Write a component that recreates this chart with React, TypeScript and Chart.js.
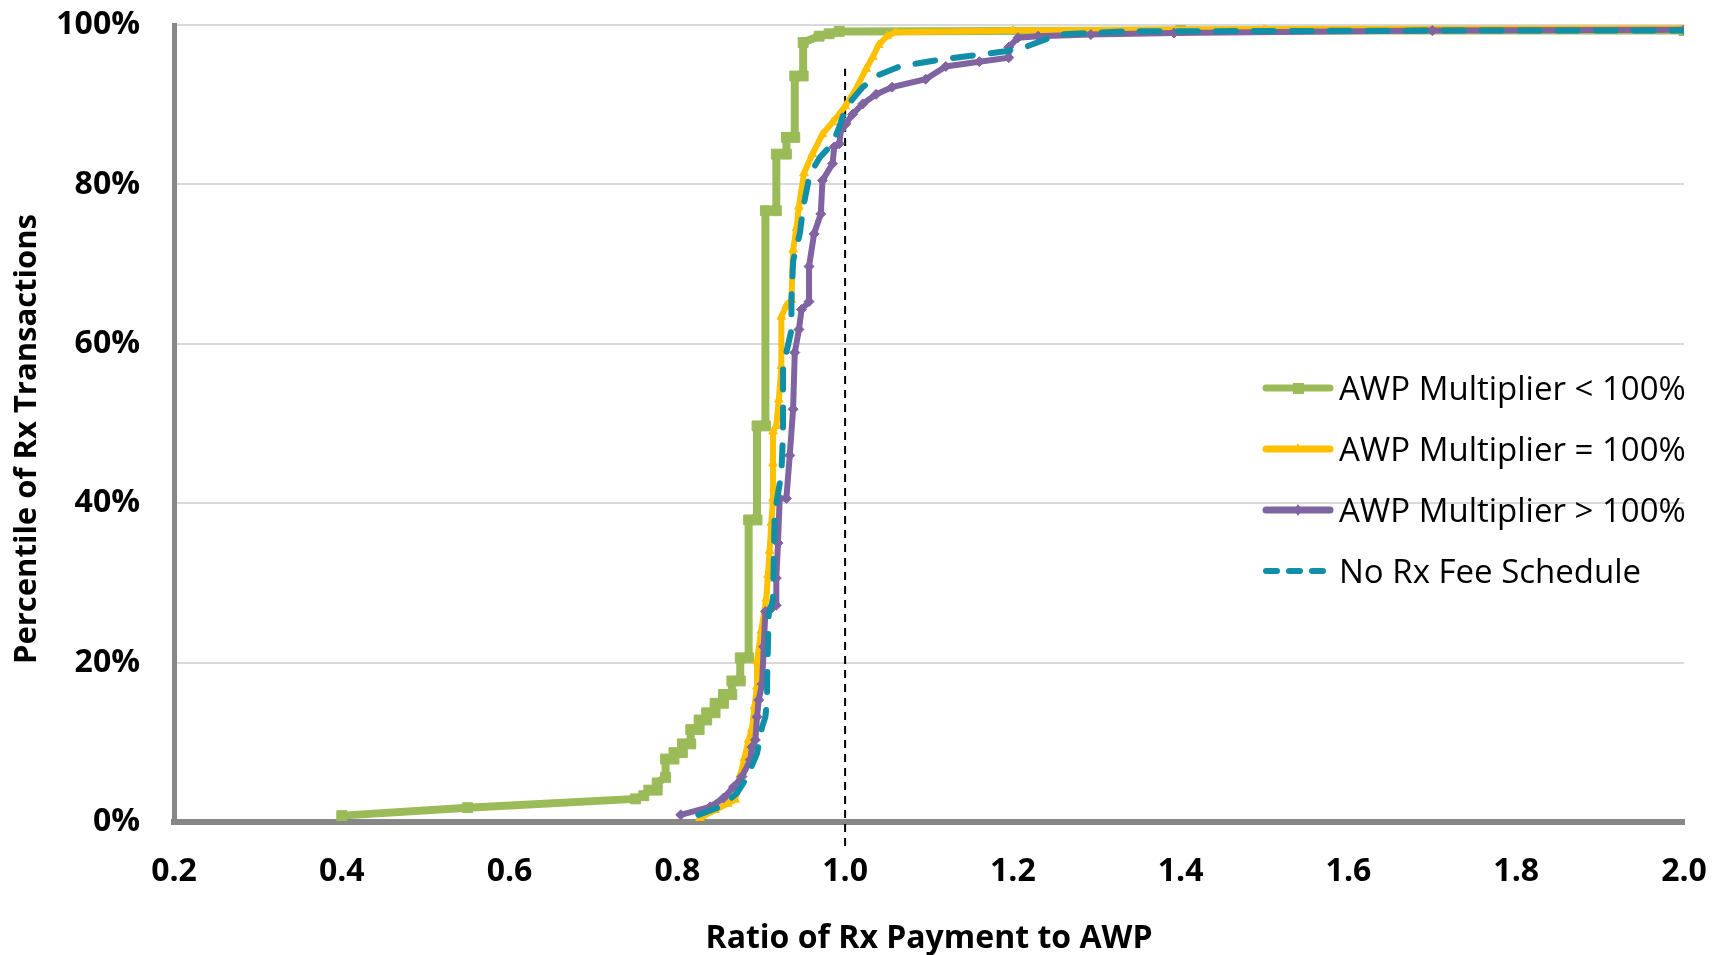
import { useEffect, useRef } from "react";
import { Chart, registerables } from "chart.js";

Chart.register(...registerables);

// series names (legend order)
const seriesNames = [
  "AWP Multiplier < 100%",
  "AWP Multiplier = 100%",
  "AWP Multiplier > 100%",
  "No Rx Fee Schedule",
];
const xTitle = "Ratio of Rx Payment to AWP";
const yTitle = "Percentile of Rx Transactions";

// tick values
const xTickValues = [0.2, 0.4, 0.6, 0.8, 1.0, 1.2, 1.4, 1.6, 1.8, 2.0];
const yTickValues = [0, 20, 40, 60, 80, 100];

// AWP Multiplier < 100%
const greenX = [
  0.4, 0.55, 0.75, 0.76, 0.766, 0.776, 0.776, 0.786, 0.786, 0.796, 0.796, 0.806, 0.806, 0.816, 0.816,
  0.826, 0.826, 0.835, 0.835, 0.845, 0.845, 0.855, 0.855, 0.865, 0.865, 0.875, 0.875, 0.885, 0.885,
  0.895, 0.895, 0.905, 0.905, 0.918, 0.918, 0.93, 0.93, 0.94, 0.94, 0.95, 0.95, 0.969, 0.981, 0.993,
  1.4, 2.0,
];
const greenY = [
  0.8, 1.8, 2.9, 3.3, 4.0, 4.0, 4.9, 5.6, 7.9, 7.9, 8.7, 8.7, 9.8, 9.8, 11.6,
  11.6, 12.8, 12.8, 13.7, 13.7, 14.9, 14.9, 16.0, 16.0, 17.7, 17.7, 20.6, 20.6, 37.9,
  37.9, 49.7, 49.7, 76.7, 76.7, 83.8, 83.8, 85.9, 85.9, 93.6, 93.6, 97.8, 98.6, 98.9, 99.2,
  99.3, 99.3,
];

// AWP Multiplier = 100%
const yellowX = [
  0.827, 0.845, 0.86, 0.869, 0.872, 0.875, 0.88, 0.885, 0.889, 0.892, 0.895, 0.895, 0.9, 0.906,
  0.908, 0.91, 0.912, 0.914, 0.914, 0.914, 0.918, 0.921, 0.924, 0.924, 0.93, 0.936, 0.938, 0.942,
  0.945, 0.951, 0.961, 0.973, 0.985, 1.0, 1.013, 1.025, 1.033, 1.04, 1.05, 1.06, 1.2, 1.5, 2.0,
];
const yellowY = [
  0.5, 1.5, 2.3, 2.8, 4.5, 5.9, 8.0, 10.3, 11.7, 14.5, 17.0, 20.2, 24.0, 28.0,
  31.0, 34.0, 37.5, 40.6, 45.0, 49.0, 49.7, 53.0, 57.2, 63.4, 64.8, 65.5, 71.8, 74.5,
  77.2, 81.4, 83.8, 86.3, 87.8, 89.8, 92.0, 94.5, 96.0, 97.5, 98.6, 99.1, 99.3, 99.5, 99.6,
];

// AWP Multiplier > 100%
const purpleX = [
  0.804, 0.839, 0.855, 0.867, 0.877, 0.887, 0.889, 0.893, 0.895, 0.897, 0.901, 0.903, 0.905, 0.912,
  0.918, 0.918, 0.92, 0.922, 0.93, 0.934, 0.938, 0.94, 0.945, 0.948, 0.957, 0.957, 0.963, 0.971,
  0.973, 0.985, 0.987, 0.993, 0.995, 1.001, 1.009, 1.021, 1.037, 1.056, 1.096, 1.12, 1.16, 1.195,
  1.195, 1.206, 1.23, 1.293, 1.392, 1.7, 2.0,
];
const purpleY = [
  0.9, 1.9, 3.0, 4.4, 5.7, 7.8, 9.4, 10.3, 13.2, 15.3, 17.3, 22.0, 26.4, 26.8,
  27.2, 30.6, 35.0, 40.6, 40.6, 46.0, 51.8, 58.9, 61.8, 64.3, 65.3, 69.7, 73.8, 76.3,
  80.5, 82.6, 84.7, 85.1, 86.8, 87.6, 88.8, 90.1, 91.3, 92.2, 93.2, 94.8, 95.4, 95.9,
  97.2, 98.4, 98.6, 98.8, 99.0, 99.3, 99.4,
];

// No Rx Fee Schedule
const tealX = [
  0.825, 0.851, 0.871, 0.881, 0.889, 0.895, 0.901, 0.905, 0.907, 0.907, 0.909, 0.914, 0.916, 0.924,
  0.926, 0.926, 0.936, 0.936, 0.938, 0.946, 0.95, 0.958, 0.97, 0.985, 0.993, 1.001, 1.021, 1.037,
  1.065, 1.116, 1.191, 1.214, 1.254, 1.333, 1.7, 2.0,
];
const tealY = [
  0.9, 1.9, 3.6, 5.3, 7.1, 8.6, 11.9, 13.2, 15.3, 17.8, 26.2, 27.8, 38.7, 43.7,
  48.7, 57.1, 61.7, 65.4, 70.4, 73.8, 77.1, 81.3, 83.4, 85.1, 87.2, 89.7, 92.2, 93.6,
  94.8, 95.7, 96.7, 97.2, 98.8, 99.2, 99.3, 99.3,
];

// reference line at ratio 1.0
const refX = [1.0, 1.0];
const refY = [-3, 94.5];

const GREEN = "#9BBB59";
const YELLOW = "#FFC000";
const PURPLE = "#8064A2";
const TEAL = "#118FA8";
const AXIS = "#878787";
const FONT = "'Open Sans', sans-serif";

const pts = (xs: number[], ys: number[]) => xs.map((x, i) => ({ x, y: ys[i] }));

// y axis title, placed like the original (a bit below the plot centre)
const yTitlePlugin = {
  id: "yTitle",
  afterDraw(chart: any) {
    const ctx = chart.ctx;
    ctx.save();
    ctx.translate(27, 439);
    ctx.rotate(-Math.PI / 2);
    ctx.font = `bold 31px ${FONT}`;
    ctx.fillStyle = "#000";
    ctx.textAlign = "center";
    ctx.textBaseline = "middle";
    ctx.fillText(yTitle, 0, 0);
    ctx.restore();
  },
};

const noScalePadding = (s: any) => {
  s.paddingTop = 0;
  s.paddingBottom = 0;
  s.paddingLeft = 0;
  s.paddingRight = 0;
};

const App = () => {
  const chartRef = useRef<HTMLCanvasElement | null>(null);

  useEffect(() => {
    document.body.style.margin = "0";
    if (!chartRef.current) return;

    const chart = new Chart(chartRef.current, {
      type: "scatter",
      data: {
        datasets: [
          {
            label: seriesNames[3],
            data: pts(tealX, tealY),
            showLine: true,
            borderColor: TEAL,
            borderWidth: 6,
            borderDash: [20, 18],
            borderCapStyle: "round",
            pointRadius: 0,
            order: 0,
          },
          {
            label: seriesNames[2],
            data: pts(purpleX, purpleY),
            showLine: true,
            borderColor: PURPLE,
            backgroundColor: PURPLE,
            borderWidth: 6,
            pointStyle: "rectRot",
            pointRadius: 5,
            pointBorderWidth: 1,
            order: 1,
          },
          {
            label: seriesNames[1],
            data: pts(yellowX, yellowY),
            showLine: true,
            borderColor: YELLOW,
            backgroundColor: YELLOW,
            borderWidth: 6,
            pointStyle: "triangle",
            pointRadius: 5,
            pointBorderWidth: 1,
            order: 2,
          },
          {
            label: seriesNames[0],
            data: pts(greenX, greenY),
            showLine: true,
            borderColor: GREEN,
            backgroundColor: GREEN,
            borderWidth: 8,
            pointStyle: "rect",
            pointRadius: 7,
            pointBorderWidth: 1,
            order: 3,
          },
          {
            label: "ref",
            data: pts(refX, refY),
            showLine: true,
            borderColor: "#000",
            borderWidth: 2,
            borderDash: [8, 6],
            pointRadius: 0,
            clip: false,
            order: 4,
          },
        ],
      },
      options: {
        animation: false,
        responsive: true,
        maintainAspectRatio: false,
        layout: { autoPadding: false, padding: { top: 25, right: 37, left: 0, bottom: 0 } },
        plugins: { legend: { display: false }, tooltip: { enabled: false } },
        scales: {
          x: {
            type: "linear",
            min: 0.2,
            max: 2.0,
            afterBuildTicks: (s: any) => {
              s.ticks = xTickValues.map((v) => ({ value: v }));
            },
            afterFit: (s: any) => {
              s.height = 133;
              noScalePadding(s);
            },
            grid: { display: true, color: "rgba(0,0,0,0)", drawTicks: false },
            border: { display: true, color: AXIS, width: 6 },
            ticks: {
              color: "#000",
              padding: 31,
              font: { family: FONT, size: 32, weight: "bold" },
              callback: (v: any) => Number(v).toFixed(1),
            },
            title: {
              display: true,
              text: xTitle,
              color: "#000",
              padding: { top: 0, bottom: 0 },
              font: { family: FONT, size: 32, weight: "bold", lineHeight: 1 },
            },
          },
          y: {
            min: 0,
            max: 100,
            afterBuildTicks: (s: any) => {
              s.ticks = yTickValues.map((v) => ({ value: v }));
            },
            afterFit: (s: any) => {
              s.width = 174;
              noScalePadding(s);
            },
            grid: { color: "#D9D9D9", lineWidth: 2, drawTicks: false },
            border: { display: true, color: AXIS, width: 5 },
            ticks: {
              color: "#000",
              padding: 34,
              font: { family: FONT, size: 32, weight: "bold" },
              callback: (v: any) => v + "%",
            },
          },
        },
      },
      plugins: [yTitlePlugin],
    });

    return () => {
      chart.destroy();
    };
  }, []);

  const sample = (i: number) => {
    if (i === 3) {
      return (
        <svg width={72} height={20}>
          <line x1={4} y1={10} x2={64} y2={10} stroke={TEAL} strokeWidth={6} strokeLinecap="round" strokeDasharray="11 12" />
        </svg>
      );
    }
    const color = [GREEN, YELLOW, PURPLE][i];
    return (
      <svg width={72} height={20}>
        <line x1={4} y1={10} x2={68} y2={10} stroke={color} strokeWidth={7} strokeLinecap="round" />
        {i === 0 && <rect x={31} y={5} width={11} height={11} fill={color} />}
        {i === 1 && <polygon points="36,4 41,13 31,13" fill={color} />}
        {i === 2 && <polygon points="36,4 40,10 36,16 32,10" fill={color} />}
      </svg>
    );
  };

  return (
    <div style={{ position: "relative", width: 1721, height: 955, background: "#fff" }}>
      <canvas ref={chartRef}></canvas>
      <div
        style={{
          position: "absolute",
          left: 1262,
          top: 357,
          fontFamily: FONT,
          fontSize: 33,
          color: "#000",
        }}
      >
        {seriesNames.map((name, i) => (
          <div key={name} style={{ display: "flex", alignItems: "center", height: 61, whiteSpace: "nowrap" }}>
            {sample(i)}
            <span style={{ marginLeft: 5 }}>{name}</span>
          </div>
        ))}
      </div>
    </div>
  );
};

export default App;
